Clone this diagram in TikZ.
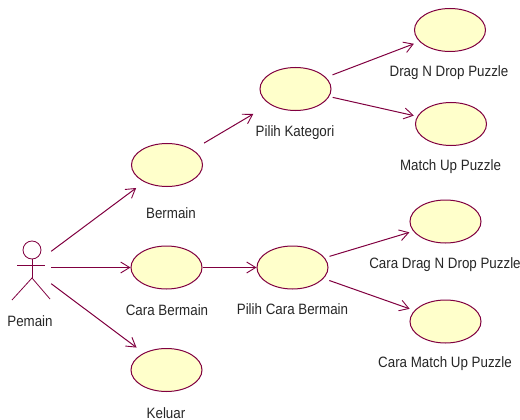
\documentclass[tikz,border=0pt]{standalone}
\usepackage{fontspec}
\setmainfont[FakeStretch=0.89]{Liberation Sans}
\usetikzlibrary{arrows.meta,shapes.geometric}
\definecolor{rosered}{RGB}{128,0,64}
\definecolor{rosefill}{RGB}{255,255,203}
\tikzset{
  usecase/.style={ellipse, draw=rosered, fill=rosefill, line width=1pt, minimum width=71pt, minimum height=43pt, inner sep=0pt},
  caption/.style={text=black!85, font=\fontsize{15}{17}\selectfont, inner sep=0pt},
  link/.style={draw=rosered, line width=1pt, -{Straight Barb[length=9pt,width=11pt,line width=0.9pt]}}
}
\begin{document}
\begin{tikzpicture}[x=1pt,y=-1pt]
\useasboundingbox (0,0) rectangle (520,420);
\node [minimum width=38pt, minimum height=32pt, inner sep=0pt] (pemain) at (32,267.5) {};
\node [circle, draw=rosered, line width=0.8pt, minimum size=18pt, inner sep=0pt] (head) at (32,250) {};
\coordinate (hip) at (32,278);
\draw [rosered, line width=0.8pt] (head) -- (hip);
\draw [rosered, line width=0.8pt] (17,265) -- (45,265);
\draw [rosered, line width=0.8pt] (12,300) -- (hip) -- (50,299);
\node [usecase] (bermain) at (167,165) {};
\node [usecase] (cara) at (166.5,267.5) {};
\node [usecase] (keluar) at (166.5,370) {};
\node [usecase] (kategori) at (295.5,89) {};
\node [usecase] (pilihcara) at (292.5,267.5) {};
\node [usecase] (drag) at (450,30) {};
\node [usecase] (match) at (451,124) {};
\node [usecase] (caradrag) at (445.5,221.5) {};
\node [usecase] (caramatch) at (445.5,321.5) {};
\node [caption] (tpemain) at (30,321) {Pemain};
\node [caption] (tbermain) at (171,213) {Bermain};
\node [caption] (tcara) at (167,310) {Cara Bermain};
\node [caption] (tkeluar) at (166,413) {Keluar};
\node [caption] (tkategori) at (295,133) {Pilih Kategori};
\node [caption] (tpilihcara) at (292.5,309) {Pilih Cara Bermain};
\node [caption] (tdrag) at (449,73) {Drag N Drop Puzzle};
\node [caption] (tmatch) at (450.5,167) {Match Up Puzzle};
\node [caption] (tcaradrag) at (445,265) {Cara Drag N Drop Puzzle};
\node [caption] (tcaramatch) at (445,364) {Cara Match Up Puzzle};
\draw [link, shorten >=10pt] (pemain.north east) -- (bermain);
\draw [link] (pemain.east) -- (cara);
\draw [link, shorten >=9pt] (pemain.south east) -- (keluar);
\draw [link] (cara) -- (pilihcara);
\draw [link, shorten <=13pt, shorten >=19pt] (bermain) -- (kategori);
\draw [link, shorten <=7pt, shorten >=6pt] (kategori) -- (drag);
\draw [link, shorten <=3.5pt, shorten >=3.5pt] (kategori) -- (match);
\draw [link, shorten <=5pt, shorten >=4pt] (pilihcara) -- (caradrag);
\draw [link, shorten <=6pt, shorten >=5pt] (pilihcara) -- (caramatch);
\end{tikzpicture}
\end{document}
